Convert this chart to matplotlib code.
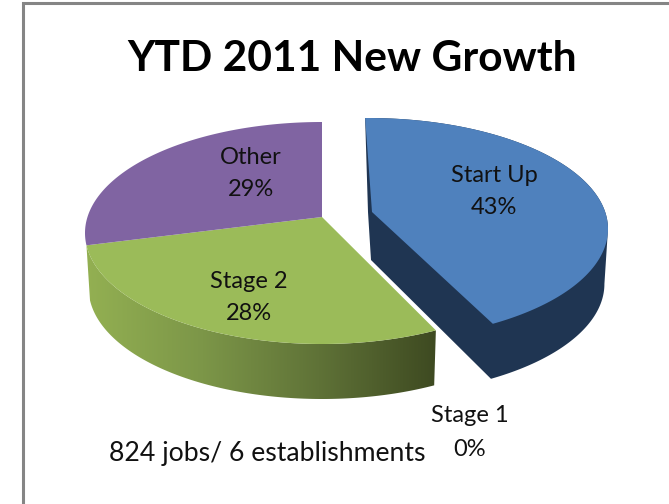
#!/usr/bin/env python3
"""
ytd_growth_pie.py - exploded tilted pie of new growth by company stage
"""

import numpy as np
import matplotlib
matplotlib.use("Agg")
import matplotlib.pyplot as plt
from matplotlib.colors import LinearSegmentedColormap
from matplotlib.patches import Polygon

plt.rcParams['font.family'] = ['Lato', 'DejaVu Sans']

# ============================================================
# Data
# ============================================================
CATEGORIES = ["Start Up", "Stage 1", "Stage 2", "Other"]
SHARES = [43, 0, 28, 29]
TITLE = "YTD 2011 New Growth"
NOTE = "824 jobs/ 6 establishments"

# ============================================================
# Pie geometry, in pixels
# ============================================================
W, H = 669, 504
DEPTH = 55
BOTTOM_SHRINK = 0.985
MAIN = dict(cx=322, cy=233, rx=237, ry=111, ax=322, ay=217)
BLUE = dict(cx=368, cy=229, rx=240, ry=111, ax=374, ay=207)

BLUE_TOP = "#4f81bd"
BLUE_SIDE = "#1f3552"
GREEN_TOP = "#9bbb59"
PURPLE_TOP = "#8064a2"
FRAME = "#858585"
TEXT = "#111111"


def ray_param(e, share):
    """Ellipse parameter where a ray from the apex, share percent clockwise from 12, hits the rim."""
    th = np.radians(share * 3.6)
    dx, dy = e['rx'] * np.sin(th), -e['ry'] * np.cos(th)
    ox, oy = (e['ax'] - e['cx']) / e['rx'], (e['ay'] - e['cy']) / e['ry']
    ux, uy = dx / e['rx'], dy / e['ry']
    a = ux**2 + uy**2
    b = 2 * (ox * ux + oy * uy)
    c = ox**2 + oy**2 - 1
    s = (-b + np.sqrt(b**2 - 4 * a * c)) / (2 * a)
    px, py = ox + s * ux, oy + s * uy
    return np.arctan2(px, -py) % (2 * np.pi)


def rim(e, t0, t1, shift=0, shrink=1.0, n=160):
    t = np.linspace(t0, t1, n)
    return np.column_stack([e['cx'] + shrink * e['rx'] * np.sin(t),
                            e['cy'] + shift - e['ry'] * np.cos(t)])


def wedge(e, t0, t1):
    return np.vstack([[e['ax'], e['ay']], rim(e, t0, t1)])


fig = plt.figure(figsize=(W / 100, H / 100), dpi=100)
ax = fig.add_axes([0, 0, 1, 1])

cum = np.cumsum(SHARES)
t_blue_end = ray_param(BLUE, cum[0])
t_green_start = ray_param(MAIN, cum[1])
t_green_end = ray_param(MAIN, cum[2])
t_purple_end = 2 * np.pi

# ============================================================
# Start Up slice, pulled out to the right
# ============================================================
t_right = np.pi / 2
t_blue_start = -0.012
side = np.vstack([
    rim(BLUE, t_blue_start, t_right),
    rim(BLUE, t_right, t_blue_end, DEPTH, BOTTOM_SHRINK),
    [[371, 260], [368, 212]],
])
ax.add_patch(Polygon(side, closed=True, fc=BLUE_SIDE, ec='none', zorder=2))
ax.add_patch(Polygon(np.vstack([[[372, 212]], wedge(BLUE, t_blue_start, t_blue_end)[1:]]),
                     closed=True, fc=BLUE_TOP, ec='none', zorder=3))

# ============================================================
# Remaining slices, with a shaded outer wall under Stage 2
# ============================================================
t_wall_start = t_green_end
wall = np.vstack([
    rim(MAIN, t_wall_start, t_green_start),
    rim(MAIN, t_green_start, t_wall_start, DEPTH, BOTTOM_SHRINK),
])
wall_patch = Polygon(wall, closed=True, fc='none', ec='none', zorder=2)
ax.add_patch(wall_patch)
shade = LinearSegmentedColormap.from_list("wall", ["#93b052", "#7c9648", "#5f7237", "#3e4a21"])
im = ax.imshow(np.linspace(0, 1, 256)[None, :], cmap=shade, aspect='auto', zorder=2,
               extent=[wall[:, 0].min(), wall[:, 0].max(), wall[:, 1].max(), wall[:, 1].min()])
im.set_clip_path(wall_patch)

ax.add_patch(Polygon(wedge(MAIN, t_green_start, t_green_end), closed=True,
                     fc=GREEN_TOP, ec='none', zorder=3))
ax.add_patch(Polygon(wedge(MAIN, t_green_end, t_purple_end), closed=True,
                     fc=PURPLE_TOP, ec='none', zorder=3))

# ============================================================
# Labels
# ============================================================
LABEL_XY = {"Start Up": (494, 176, 208), "Stage 1": (470, 416, 449),
            "Stage 2": (249, 282, 314), "Other": (251, 158, 190)}
for name, share in zip(CATEGORIES, SHARES):
    x, y1, y2 = LABEL_XY[name]
    ax.text(x, y1, name, ha='center', va='center', fontsize=17, color=TEXT, zorder=5)
    ax.text(x, y2, f"{share}%", ha='center', va='center', fontsize=17, color=TEXT, zorder=5)

ax.text(352, 59, TITLE, ha='center', va='center', fontsize=30.6, fontweight='bold',
        color='black', zorder=5)
ax.text(267, 454, NOTE, ha='center', va='center', fontsize=19.2, color=TEXT, zorder=5)

# outer chart frame, cut off by the top and right edges
ax.plot([23, 23, W], [H, 3, 3], color=FRAME, lw=2.2, solid_joinstyle='miter', zorder=6)

ax.set_xlim(0, W)
ax.set_ylim(H, 0)
ax.axis('off')
fig.savefig("out.png", dpi=100)
plt.close(fig)
